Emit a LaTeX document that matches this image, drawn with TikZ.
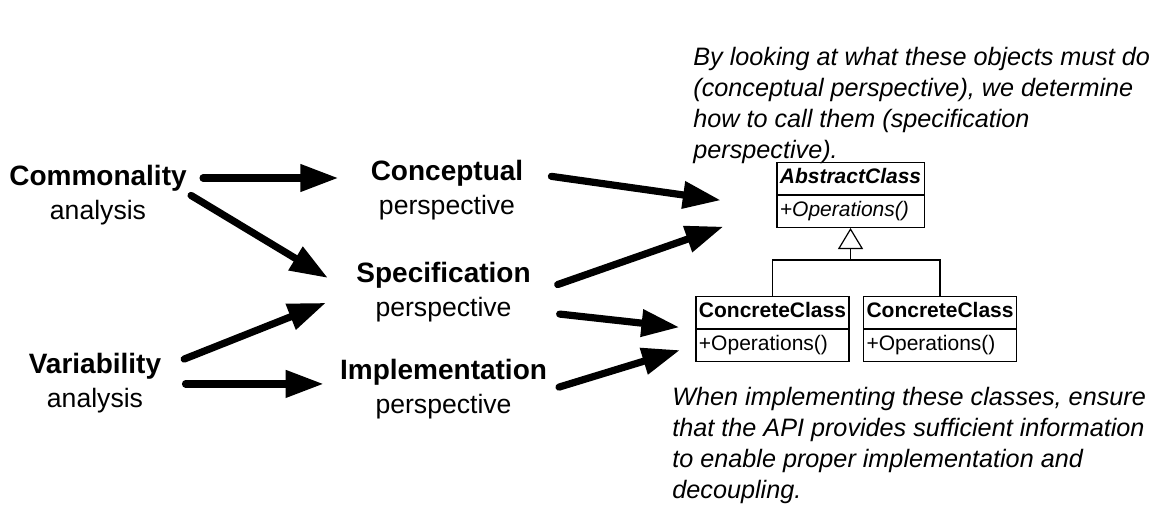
\documentclass[tikz,border=0pt]{standalone}
\usepackage{fontspec}
\setmainfont{Liberation Sans}
\usepackage{tikz}
\usetikzlibrary{positioning,arrows.meta,shapes.multipart}

\begin{document}
\begin{tikzpicture}[
  headline/.style={font=\fontsize{14}{17}\selectfont\bfseries, inner sep=2pt},
  subline/.style={font=\fontsize{13.3}{16}\selectfont, inner sep=2pt},
  flow/.style={line width=3.6pt, line cap=round, -{Triangle[length=19pt,width=13pt]}},
  umlclass/.style={rectangle split, rectangle split parts=2, draw, line width=0.6pt,
    rectangle split part align=left, inner xsep=1.5pt, inner ysep=1.5pt,
    font=\fontsize{10.5}{12.6}\selectfont, anchor=north},
  inherit/.style={line width=0.6pt, -{Triangle[open,length=10.5pt,width=12.5pt]}},
  remark/.style={font=\fontsize{12.6}{15.5}\selectfont\itshape, align=left, inner sep=0pt, anchor=north west}
]
\useasboundingbox (0,0) rectangle (20.437,-8.980);
% analyses
\node[headline] at (1.722,-3.128) (comm) {Commonality};
\node[subline, below=0pt of comm] (commsub) {analysis};
\node[headline] at (1.669,-6.440) (var) {Variability};
\node[subline, below=0pt of var] (varsub) {analysis};
% perspectives
\node[headline] at (7.855,-3.040) (concept) {Conceptual};
\node[subline, below=0pt of concept] (conceptsub) {perspective};
\node[headline] at (7.794,-4.833) (spec) {Specification};
\node[subline, below=0pt of spec] (specsub) {perspective};
\node[headline] at (7.794,-6.537) (impl) {Implementation};
\node[subline, below=0pt of impl] (implsub) {perspective};
% classes
\node[umlclass] at (14.946,-2.847) (abstract) {\strut\textbf{\textit{AbstractClass}}\nodepart{two}\strut\textit{+Operations()}};
\node[umlclass] at (13.575,-5.202) (conc1) {\strut\textbf{ConcreteClass}\nodepart{two}\strut+Operations()};
\node[umlclass] at (16.519,-5.202) (conc2) {\strut\textbf{ConcreteClass}\nodepart{two}\strut+Operations()};
\coordinate[below=16pt of abstract.south] (fork);
\draw[inherit] (fork) -- (abstract.south);
\draw[line width=0.6pt] (conc1.north) |- (fork) -| (conc2.north);
% notes
\node[remark] at (12.178,-0.826) (topnote) {By looking at what these objects must do\\(conceptual perspective), we determine\\how to call them (specification\\perspective).};
\node[remark] at (11.809,-6.790) (botnote) {When implementing these classes, ensure\\that the API provides sufficient information\\to enable proper implementation and\\decoupling.};
% arrows
\draw[flow, shorten <=6pt, shorten >=14pt] (comm.east) -- (comm.east -| concept.west);
\draw[flow, shorten >=14pt] (comm.south east) -- (spec.south west);
\draw[flow, shorten <=10pt, shorten >=14pt] (var.east) -- (spec.south west);
\draw[flow, shorten <=10pt, shorten >=6pt] (var.south east) -- (var.south east -| impl.west);
\draw[flow, shorten <=12pt, shorten >=28pt] (concept.east) -- (abstract.190);
\draw[flow, shorten <=12pt, shorten >=28pt] (spec.south east) -- (abstract.190);
\draw[flow, shorten <=22pt, shorten >=8pt] (specsub.east) -- (conc1.west);
\draw[flow, shorten <=4pt, shorten >=8pt] (impl.south east) -- (conc1.192);
\end{tikzpicture}
\end{document}
